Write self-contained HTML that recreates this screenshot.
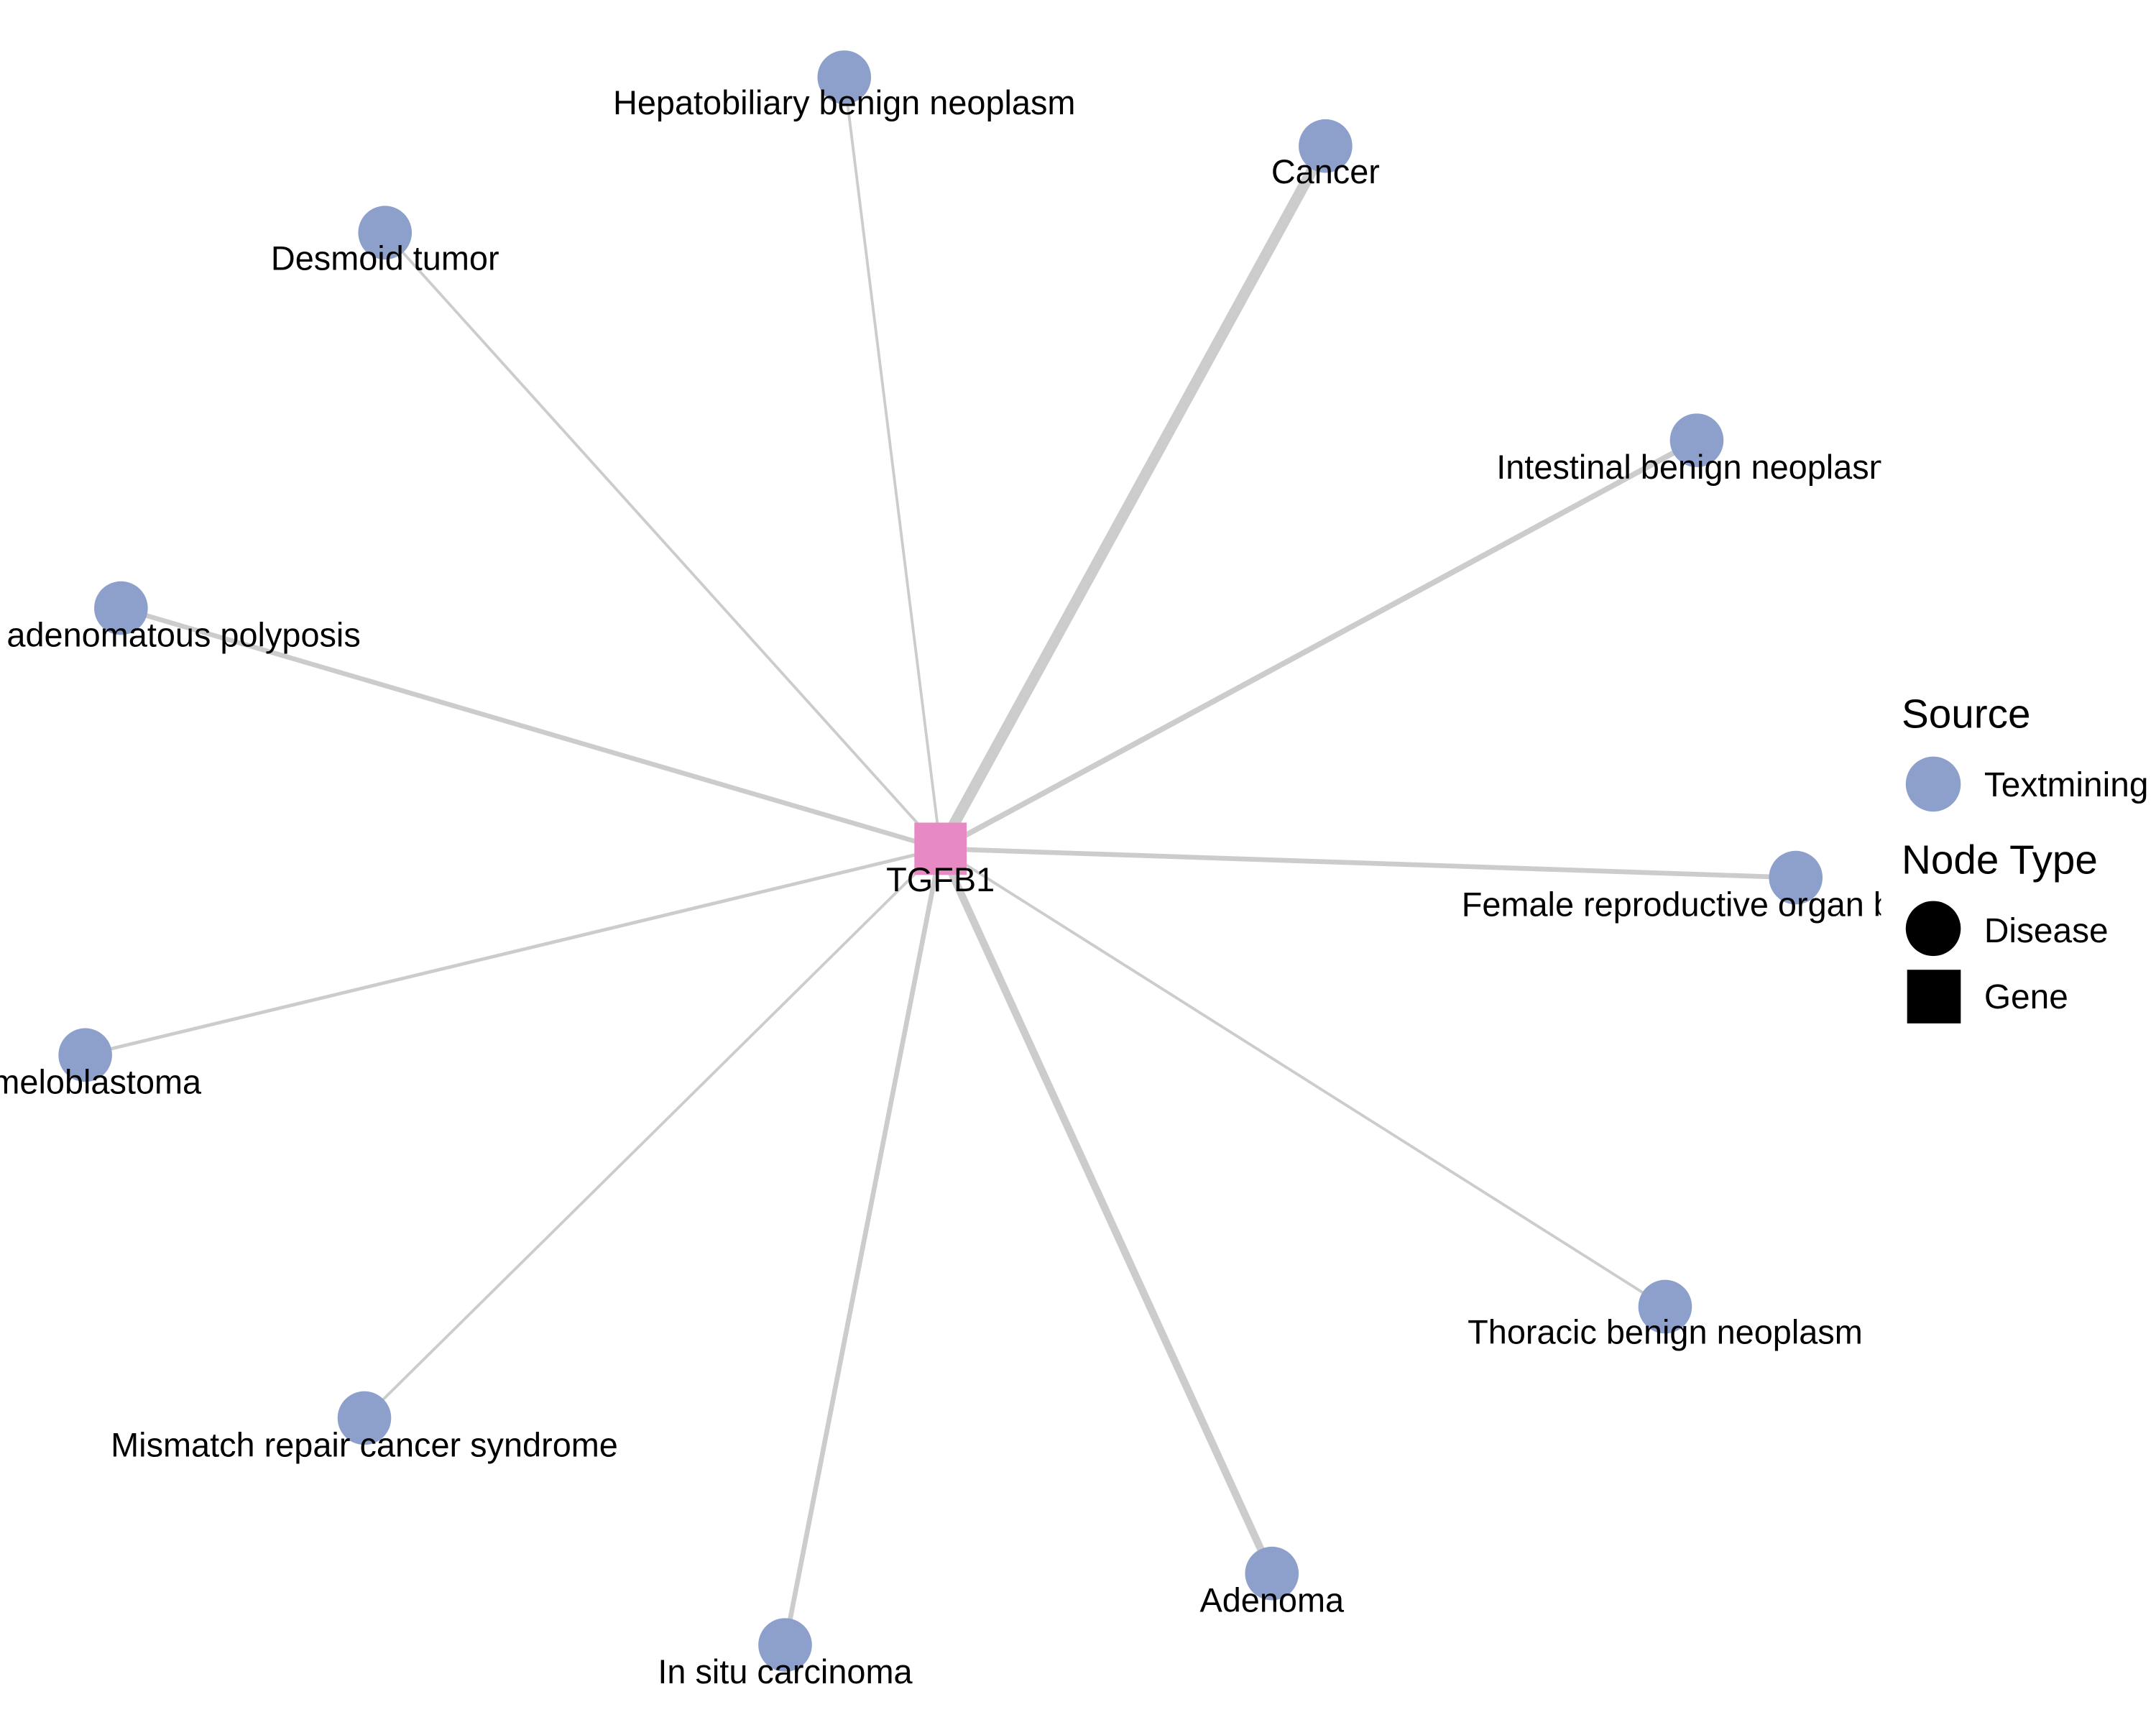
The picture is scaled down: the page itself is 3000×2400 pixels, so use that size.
<!DOCTYPE html>
<html><head><meta charset="utf-8"><style>html,body{margin:0;padding:0;background:#fff}svg{display:block}</style></head>
<body>
<svg width="3000" height="2400" viewBox="0 0 1568 1254" xmlns="http://www.w3.org/2000/svg" font-family="Liberation Sans, Arial, sans-serif">
<defs><clipPath id="c"><rect x="0" y="0" width="1368" height="1254"/></clipPath></defs>
<rect width="1568" height="1254" fill="#fff"/>
<g clip-path="url(#c)">
<g stroke="#cccccc" stroke-linecap="butt">
<line x1="684" y1="617" x2="614" y2="56" stroke-width="2"/>
<line x1="684" y1="617" x2="964" y2="106" stroke-width="8"/>
<line x1="684" y1="617" x2="280" y2="169" stroke-width="2"/>
<line x1="684" y1="617" x2="1234" y2="320" stroke-width="4"/>
<line x1="684" y1="617" x2="88" y2="442" stroke-width="3.5"/>
<line x1="684" y1="617" x2="1306" y2="638" stroke-width="3.5"/>
<line x1="684" y1="617" x2="62" y2="767" stroke-width="2.5"/>
<line x1="684" y1="617" x2="1211" y2="950" stroke-width="2"/>
<line x1="684" y1="617" x2="265" y2="1031" stroke-width="2"/>
<line x1="684" y1="617" x2="925" y2="1144" stroke-width="5.5"/>
<line x1="684" y1="617" x2="571" y2="1196" stroke-width="3.5"/>
</g>
<g fill="#8DA0CB">
<circle cx="614" cy="56" r="19.5"/><circle cx="964" cy="106" r="19.5"/><circle cx="280" cy="169" r="19.5"/>
<circle cx="1234" cy="320" r="19.5"/><circle cx="88" cy="442" r="19.5"/><circle cx="1306" cy="638" r="19.5"/>
<circle cx="62" cy="767" r="19.5"/><circle cx="1211" cy="950" r="19.5"/><circle cx="265" cy="1031" r="19.5"/>
<circle cx="925" cy="1144" r="19.5"/><circle cx="571" cy="1196" r="19.5"/>
</g>
<rect x="665" y="598" width="38" height="38" fill="#E78AC3"/>
<g font-size="24.5" text-anchor="middle" fill="#000">
<text x="614" y="83">Hepatobiliary benign neoplasm</text>
<text x="964" y="133">Cancer</text>
<text x="280" y="196">Desmoid tumor</text>
<text x="1234" y="348">Intestinal benign neoplasm</text>
<text x="88" y="470">Familial adenomatous polyposis</text>
<text x="684" y="648">TGFB1</text>
<text x="1306" y="666">Female reproductive organ benign neoplasm</text>
<text x="62" y="795">Ameloblastoma</text>
<text x="1211" y="977">Thoracic benign neoplasm</text>
<text x="265" y="1059">Mismatch repair cancer syndrome</text>
<text x="925" y="1172">Adenoma</text>
<text x="571" y="1224">In situ carcinoma</text>
</g>
</g>
<text x="1383" y="529" font-size="29.6">Source</text>
<circle cx="1406" cy="570" r="20" fill="#8DA0CB"/>
<text x="1443" y="579" font-size="25">Textmining</text>
<text x="1383" y="635" font-size="29.6">Node Type</text>
<circle cx="1406" cy="675" r="20" fill="#000"/>
<text x="1443" y="685" font-size="25">Disease</text>
<rect x="1387" y="705" width="39" height="39" fill="#000"/>
<text x="1443" y="733" font-size="25">Gene</text>
</svg>
</body></html>
